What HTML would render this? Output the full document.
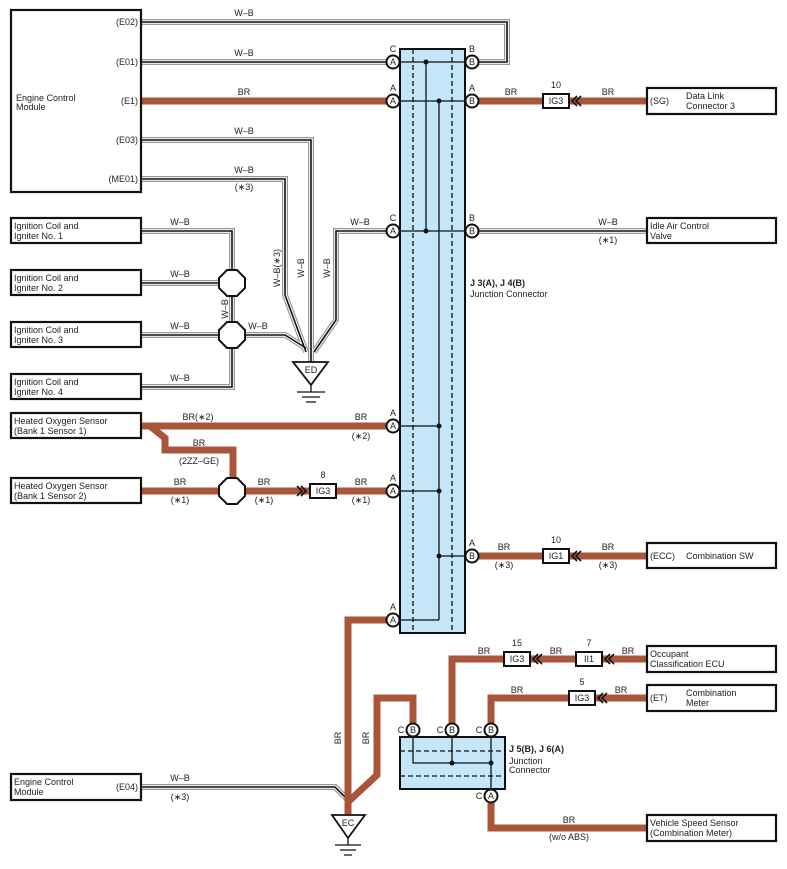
<!DOCTYPE html>
<html><head><meta charset="utf-8"><style>
html,body{margin:0;padding:0;background:#fff}
svg{display:block}
text{font-family:"Liberation Sans",sans-serif;font-size:9px;fill:#222}
.o{stroke:#999;stroke-width:6;fill:none}
.w{stroke:#fff;stroke-width:3.6;fill:none}
.k{stroke:#111;stroke-width:1.6;fill:none}
.br{stroke:#a9553a;stroke-width:7;fill:none}
.box{fill:#fff;stroke:#111;stroke-width:2.2}
.c{fill:#fff;stroke:#111;stroke-width:2}
.ln{stroke:#111;stroke-width:1.3;fill:none}
.ds{stroke:#111;stroke-width:1.3;stroke-dasharray:5,3;fill:none}
</style></head><body>
<svg width="787" height="869" viewBox="0 0 787 869" xmlns="http://www.w3.org/2000/svg">
<defs>
<g id="wb">
<path d="M141,22 H507 V62 H479"/>
<path d="M141,62 H386"/>
<path d="M141,140 H311 V362"/>
<path d="M141,179 H285 V295 L306,352"/>
<path d="M386,231 H336 V320 L314,352"/>
<path d="M141,231 H232 V387 H141"/>
<path d="M141,283 H232 M141,335 H232"/>
<path d="M232,335 H285 L306,348"/>
<path d="M479,231 H647"/>
<path d="M141,787 H335 L348,800"/>
</g>
</defs>
<use href="#wb" class="o"/><use href="#wb" class="w"/><use href="#wb" class="k"/>

<!-- brown wires -->
<path class="br" d="M141,101 H386 M479,101 H647"/>
<path class="br" d="M141,426 H386"/>
<path class="br" d="M150,426 L165,438 V450 H233 V491"/>
<path class="br" d="M141,491 H386"/>
<path class="br" d="M479,556 H647"/>
<path class="br" d="M386,620 H348 V814"/>
<path class="br" d="M413,723 V698 H377 V775 L348,802"/>
<path class="br" d="M452,723 V659 H647"/>
<path class="br" d="M491,723 V698 H647"/>
<path class="br" d="M491,803 V828 H647"/>

<!-- J3/J4 -->
<rect x="400" y="49" width="65" height="584" fill="#c5e6f8" stroke="#111" stroke-width="2"/>
<path class="ds" d="M413,49 V633 M452,49 V633"/>
<path class="ln" d="M393,62 H472 M393,101 H472 M393,231 H472 M393,426 H439 M393,491 H439 M439,556 H472 M393,620 H439 M426,62 V231 M439,101 V620"/>
<g fill="#111"><circle cx="426" cy="62" r="2.5"/><circle cx="439" cy="101" r="2.5"/><circle cx="426" cy="231" r="2.5"/><circle cx="439" cy="426" r="2.5"/><circle cx="439" cy="491" r="2.5"/><circle cx="439" cy="556" r="2.5"/></g>
<g>
<circle class="c" cx="393" cy="62" r="6.5"/><circle class="c" cx="472" cy="62" r="6.5"/>
<circle class="c" cx="393" cy="101" r="6.5"/><circle class="c" cx="472" cy="101" r="6.5"/>
<circle class="c" cx="393" cy="231" r="6.5"/><circle class="c" cx="472" cy="231" r="6.5"/>
<circle class="c" cx="393" cy="426" r="6.5"/><circle class="c" cx="393" cy="491" r="6.5"/>
<circle class="c" cx="472" cy="556" r="6.5"/><circle class="c" cx="393" cy="620" r="6.5"/>
</g>
<g text-anchor="middle">
<text x="393" y="65">A</text><text x="472" y="65">B</text><text x="393" y="52">C</text><text x="472" y="52">B</text>
<text x="393" y="104">A</text><text x="472" y="104">B</text><text x="393" y="91">A</text><text x="472" y="91">A</text>
<text x="393" y="234">A</text><text x="472" y="234">B</text><text x="393" y="221">C</text><text x="472" y="221">B</text>
<text x="393" y="429">A</text><text x="393" y="416">A</text>
<text x="393" y="494">A</text><text x="393" y="481">A</text>
<text x="472" y="559">B</text><text x="472" y="546">A</text>
<text x="393" y="623">A</text><text x="393" y="610">A</text>
</g>
<text x="470" y="286" font-weight="bold">J 3(A), J 4(B)</text>
<text x="470" y="297">Junction Connector</text>

<!-- J5/J6 -->
<rect x="400" y="737" width="105" height="52" fill="#c5e6f8" stroke="#111" stroke-width="2"/>
<path class="ds" d="M400,751 H505 M400,776 H505"/>
<path class="ln" d="M413,737 V763 H491 M452,737 V763 M491,737 V796"/>
<g fill="#111"><circle cx="452" cy="763" r="2.5"/><circle cx="491" cy="763" r="2.5"/></g>
<circle class="c" cx="413" cy="730" r="6.5"/><circle class="c" cx="452" cy="730" r="6.5"/><circle class="c" cx="491" cy="730" r="6.5"/><circle class="c" cx="491" cy="796" r="6.5"/>
<g text-anchor="middle">
<text x="413" y="733">B</text><text x="452" y="733">B</text><text x="491" y="733">B</text><text x="491" y="799">A</text>
<text x="401" y="733">C</text><text x="440" y="733">C</text><text x="479" y="733">C</text><text x="479" y="799">C</text>
</g>
<text x="509" y="752" font-weight="bold">J 5(B), J 6(A)</text>
<text x="509" y="764">Junction</text>
<text x="509" y="773">Connector</text>

<!-- boxes -->
<rect class="box" x="11" y="10" width="130" height="182"/>
<text x="16" y="101">Engine Control</text><text x="16" y="110">Module</text>
<g text-anchor="end"><text x="138" y="25">(E02)</text><text x="138" y="65">(E01)</text><text x="138" y="104">(E1)</text><text x="138" y="143">(E03)</text><text x="138" y="182">(ME01)</text></g>
<rect class="box" x="11" y="218" width="130" height="25"/><text x="14" y="229">Ignition Coil and</text><text x="14" y="239">Igniter No. 1</text>
<rect class="box" x="11" y="270" width="130" height="25"/><text x="14" y="281">Ignition Coil and</text><text x="14" y="291">Igniter No. 2</text>
<rect class="box" x="11" y="322" width="130" height="25"/><text x="14" y="333">Ignition Coil and</text><text x="14" y="343">Igniter No. 3</text>
<rect class="box" x="11" y="374" width="130" height="25"/><text x="14" y="385">Ignition Coil and</text><text x="14" y="395">Igniter No. 4</text>
<rect class="box" x="11" y="413" width="130" height="25"/><text x="14" y="424">Heated Oxygen Sensor</text><text x="14" y="434">(Bank 1 Sensor 1)</text>
<rect class="box" x="11" y="478" width="130" height="25"/><text x="14" y="489">Heated Oxygen Sensor</text><text x="14" y="499">(Bank 1 Sensor 2)</text>
<rect class="box" x="11" y="774" width="130" height="26"/><text x="14" y="785">Engine Control</text><text x="14" y="795">Module</text><text x="138" y="790" text-anchor="end">(E04)</text>

<rect class="box" x="647" y="88" width="129" height="26"/><text x="650" y="104">(SG)</text><text x="686" y="99">Data Link</text><text x="686" y="109">Connector 3</text>
<rect class="box" x="647" y="218" width="129" height="25"/><text x="650" y="229">Idle Air Control</text><text x="650" y="239">Valve</text>
<rect class="box" x="647" y="543" width="129" height="25"/><text x="650" y="559">(ECC)</text><text x="686" y="559">Combination SW</text>
<rect class="box" x="647" y="646" width="129" height="26"/><text x="650" y="657">Occupant</text><text x="650" y="667">Classification ECU</text>
<rect class="box" x="647" y="685" width="129" height="26"/><text x="650" y="701">(ET)</text><text x="686" y="696">Combination</text><text x="686" y="706">Meter</text>
<rect class="box" x="647" y="815" width="129" height="26"/><text x="650" y="826">Vehicle Speed Sensor</text><text x="650" y="836">(Combination Meter)</text>

<!-- octagons -->
<g class="c">
<polygon points="227,270 237,270 245,278 245,288 237,296 227,296 219,288 219,278"/>
<polygon points="227,322 237,322 245,330 245,340 237,348 227,348 219,340 219,330"/>
<polygon points="227,478 237,478 245,486 245,496 237,504 227,504 219,496 219,486"/>
</g>

<!-- fuses -->
<g class="c" stroke-width="1.8">
<rect x="543" y="94" width="26" height="14"/>
<rect x="543" y="549" width="26" height="14"/>
<rect x="310" y="484" width="26" height="14"/>
<rect x="504" y="652" width="26" height="14"/>
<rect x="576" y="652" width="26" height="14"/>
<rect x="569" y="691" width="26" height="14"/>
</g>
<g text-anchor="middle">
<text x="556" y="104">IG3</text><text x="556" y="88">10</text>
<text x="556" y="559">IG1</text><text x="556" y="543">10</text>
<text x="323" y="494">IG3</text><text x="323" y="478">8</text>
<text x="517" y="662">IG3</text><text x="517" y="646">15</text>
<text x="589" y="662">II1</text><text x="589" y="646">7</text>
<text x="582" y="701">IG3</text><text x="582" y="685">5</text>
</g>
<g stroke="#111" stroke-width="1.6" fill="none">
<path d="M577,96 L572,101 L577,106 M581,96 L576,101 L581,106"/>
<path d="M577,551 L572,556 L577,561 M581,551 L576,556 L581,561"/>
<path d="M538,654 L533,659 L538,664 M542,654 L537,659 L542,664"/>
<path d="M610,654 L605,659 L610,664 M614,654 L609,659 L614,664"/>
<path d="M603,693 L598,698 L603,703 M607,693 L602,698 L607,703"/>
<path d="M297,486 L302,491 L297,496 M301,486 L306,491 L301,496"/>
</g>

<!-- grounds -->
<polygon points="293,362 328,362 311,385" fill="#fff" stroke="#111" stroke-width="1.8"/>
<text x="311" y="373" text-anchor="middle">ED</text>
<path class="ln" d="M311,385 V392 M297,392 H325 M302,397 H320 M306,402 H316"/>
<polygon points="332,815 365,815 348,838" fill="#fff" stroke="#111" stroke-width="1.8"/>
<text x="348" y="826" text-anchor="middle">EC</text>
<path class="ln" d="M348,838 V845 M335,845 H361 M340,850 H356 M344,855 H352"/>

<!-- wire labels -->
<g text-anchor="middle">
<text x="244" y="16">W–B</text><text x="244" y="56">W–B</text><text x="244" y="95">BR</text>
<text x="244" y="134">W–B</text><text x="244" y="173">W–B</text><text x="244" y="190">(∗3)</text>
<text x="180" y="225">W–B</text><text x="180" y="277">W–B</text><text x="180" y="329">W–B</text><text x="180" y="381">W–B</text>
<text x="258" y="329">W–B</text><text x="360" y="225">W–B</text>
<text x="198" y="420">BR(∗2)</text><text x="361" y="420">BR</text><text x="361" y="439">(∗2)</text>
<text x="199" y="446">BR</text><text x="199" y="464">(2ZZ–GE)</text>
<text x="180" y="485">BR</text><text x="180" y="503">(∗1)</text>
<text x="264" y="485">BR</text><text x="264" y="503">(∗1)</text>
<text x="361" y="485">BR</text><text x="361" y="503">(∗1)</text>
<text x="511" y="95">BR</text><text x="608" y="95">BR</text>
<text x="608" y="225">W–B</text><text x="608" y="243">(∗1)</text>
<text x="504" y="550">BR</text><text x="504" y="568">(∗3)</text>
<text x="608" y="550">BR</text><text x="608" y="568">(∗3)</text>
<text x="484" y="654">BR</text><text x="556" y="654">BR</text><text x="628" y="654">BR</text>
<text x="517" y="693">BR</text><text x="621" y="693">BR</text>
<text x="569" y="823">BR</text><text x="569" y="840">(w/o ABS)</text>
<text x="180" y="781">W–B</text><text x="180" y="800">(∗3)</text>
</g>
<g text-anchor="middle">
<text transform="translate(228,309) rotate(-90)">W–B</text>
<text transform="translate(280,268) rotate(-90)">W–B(∗3)</text>
<text transform="translate(304,268) rotate(-90)">W–B</text>
<text transform="translate(330,268) rotate(-90)">W–B</text>
<text transform="translate(341,738) rotate(-90)">BR</text>
<text transform="translate(369,738) rotate(-90)">BR</text>
</g>
</svg>
</body></html>
